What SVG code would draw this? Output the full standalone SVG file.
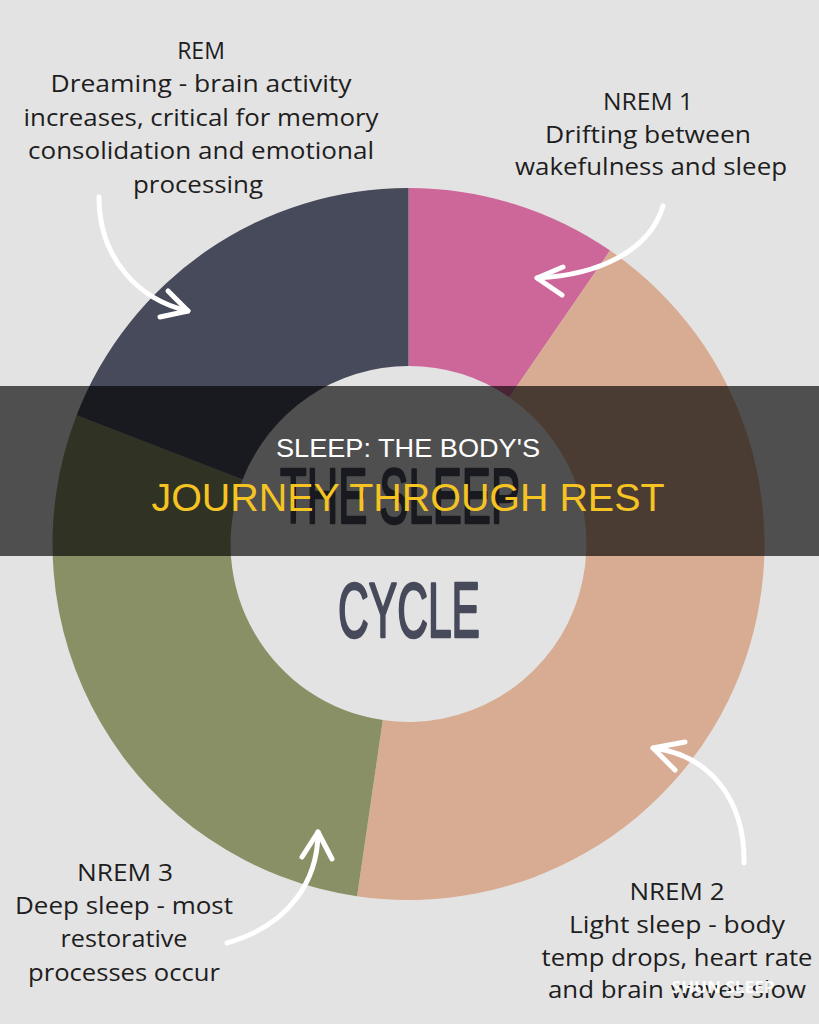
<svg xmlns="http://www.w3.org/2000/svg" width="819" height="1024" viewBox="0 0 819 1024">
<style>
.lbl{font-family:"Open Sans","Liberation Sans",sans-serif;font-size:23px;fill:#1e1e1e;text-anchor:middle}
.arrow{fill:none;stroke:#ffffff;stroke-width:5;stroke-linecap:round;stroke-linejoin:round}
.hand{font-family:"Liberation Sans",sans-serif;font-size:77px;fill:#474a5a;stroke:#474a5a;stroke-width:2.5;stroke-linejoin:round;text-anchor:middle}
.title{font-family:"Liberation Sans",sans-serif;text-anchor:middle}
</style>
<rect x="0" y="0" width="819" height="1024" fill="#e4e3e3"/>
<g id="nrem1-seg"><path d="M408.5,188 A356,356 0 0 1 610.1,250.6 L509.3,397.3 A178,178 0 0 0 408.5,366 Z" fill="#cd6799"/></g>
<g id="nrem2-seg"><path d="M610.1,250.6 A356,356 0 0 1 357.1,896.3 L382.8,720.1 A178,178 0 0 0 509.3,397.3 Z" fill="#d8ac93"/></g>
<g id="nrem3-seg"><path d="M357.1,896.3 A356,356 0 0 1 76.6,415.3 L242.6,479.6 A178,178 0 0 0 382.8,720.1 Z" fill="#8a9066"/></g>
<g id="rem-seg"><path d="M76.6,415.3 A356,356 0 0 1 408.5,188 L408.5,366 A178,178 0 0 0 242.6,479.6 Z" fill="#474a5a"/></g>
<g id="center">
<text class="hand" x="400" y="523" textLength="240" lengthAdjust="spacingAndGlyphs">THE SLEEP</text>
<text class="hand" x="409" y="637" textLength="142" lengthAdjust="spacingAndGlyphs">CYCLE</text>
</g>
<g id="rem-label">
<text class="lbl" x="201" y="59">REM</text>
<text class="lbl" x="201" y="92" textLength="301" lengthAdjust="spacingAndGlyphs">Dreaming - brain activity</text>
<text class="lbl" x="201" y="126" textLength="355" lengthAdjust="spacingAndGlyphs">increases, critical for memory</text>
<text class="lbl" x="201" y="159" textLength="346" lengthAdjust="spacingAndGlyphs">consolidation and emotional</text>
<text class="lbl" x="198" y="193" textLength="130" lengthAdjust="spacingAndGlyphs">processing</text>
</g>
<g id="nrem1-label">
<text class="lbl" x="648" y="110" textLength="90" lengthAdjust="spacingAndGlyphs">NREM 1</text>
<text class="lbl" x="648" y="143" textLength="206" lengthAdjust="spacingAndGlyphs">Drifting between</text>
<text class="lbl" x="651" y="175" textLength="272" lengthAdjust="spacingAndGlyphs">wakefulness and sleep</text>
</g>
<g id="nrem3-label">
<text class="lbl" x="125" y="881" textLength="96" lengthAdjust="spacingAndGlyphs">NREM 3</text>
<text class="lbl" x="124" y="914" textLength="218" lengthAdjust="spacingAndGlyphs">Deep sleep - most</text>
<text class="lbl" x="124" y="947" textLength="127" lengthAdjust="spacingAndGlyphs">restorative</text>
<text class="lbl" x="124" y="981" textLength="192" lengthAdjust="spacingAndGlyphs">processes occur</text>
</g>
<g id="nrem2-label">
<text class="lbl" x="677" y="900" textLength="95" lengthAdjust="spacingAndGlyphs">NREM 2</text>
<text class="lbl" x="677" y="933" textLength="216" lengthAdjust="spacingAndGlyphs">Light sleep - body</text>
<text class="lbl" x="677" y="966" textLength="271" lengthAdjust="spacingAndGlyphs">temp drops, heart rate</text>
<text class="lbl" x="677" y="998" textLength="258" lengthAdjust="spacingAndGlyphs">and brain waves slow</text>
</g>
<g id="connectors">
<path class="arrow" d="M99,197 C99,260 140,300 188,311"/>
<path class="arrow" d="M168,291 L188,311 L160,317"/>
<path class="arrow" d="M663,206 C650,250 600,275 537,278"/>
<path class="arrow" d="M563,267 L537,278 L562,295"/>
<path class="arrow" d="M744,863 C745,800 710,755 653,748"/>
<path class="arrow" d="M685,742 L653,748 L675,770"/>
<path class="arrow" d="M227,943 C290,925 318,880 318,832"/>
<path class="arrow" d="M302,857 L318,832 L332,859"/>
</g>
<g id="banner">
<rect x="0" y="386" width="819" height="170" fill="#000000" fill-opacity="0.65"/>
<text class="title" x="408" y="457" font-size="25" fill="#ffffff" textLength="264" lengthAdjust="spacingAndGlyphs">SLEEP: THE BODY'S</text>
<text class="title" x="408" y="511" font-size="39" fill="#f5c423" textLength="513" lengthAdjust="spacingAndGlyphs">JOURNEY THROUGH REST</text>
</g>
<g id="watermark">
<text x="723" y="993" font-family="'Open Sans','Liberation Sans',sans-serif" font-size="16" font-weight="bold" fill="#ffffff" fill-opacity="0.95" text-anchor="middle" textLength="103" lengthAdjust="spacingAndGlyphs">SHUN SLEEP</text>
</g>
</svg>
